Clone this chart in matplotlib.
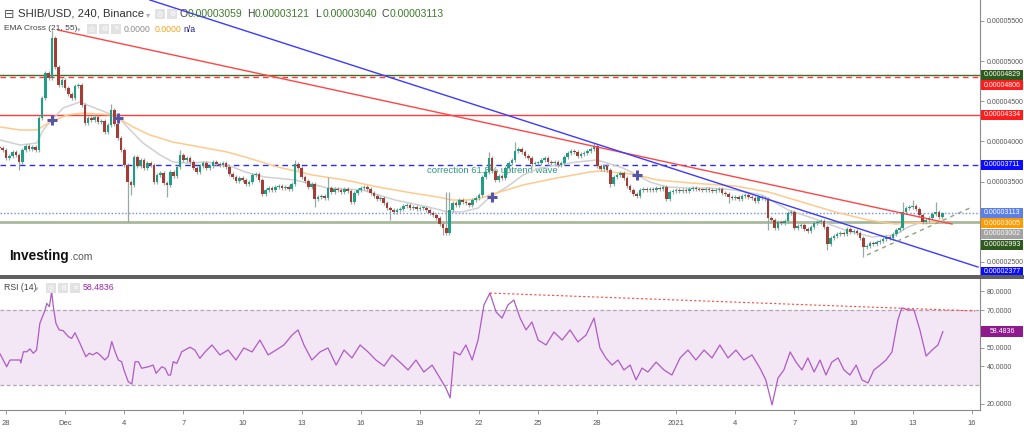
import numpy as np
import matplotlib.pyplot as plt
from matplotlib.patches import Rectangle

plt.rcParams['font.family'] = ['Liberation Sans', 'DejaVu Sans']

### data: SHIB/USD 4h candles (Nov 27 16:00 -> Jan 14 12:00), prices in 1e-8 USD
first_open = 3930
closes = [
    3918, 3893, 3793, 3818, 3868, 3831, 3744, 3893, 3943, 3905,
    3930, 3893, 4291, 4540, 4851, 4789, 5286, 4925, 4701, 4764,
    4664, 4589, 4540, 4689, 4701, 4453, 4229, 4291, 4266, 4303,
    4241, 4254, 4117, 4204, 4390, 4216, 4042, 3893, 3706, 3495,
    3458, 3806, 3694, 3769, 3669, 3731, 3706, 3495, 3582, 3607,
    3483, 3458, 3619, 3570, 3681, 3831, 3769, 3793, 3744, 3669,
    3619, 3694, 3731, 3669, 3694, 3744, 3719, 3706, 3731, 3681,
    3594, 3560, 3507, 3545, 3520, 3470, 3495, 3582, 3594, 3520, 3346,
    3395, 3420, 3395, 3433, 3445, 3420, 3433, 3408, 3470, 3719,
    3669, 3557, 3507, 3433, 3470, 3283, 3308, 3321, 3296, 3420,
    3371, 3408, 3395, 3371, 3408, 3383, 3246, 3358, 3395, 3420,
    3433, 3408, 3358, 3321, 3283, 3296, 3234, 3171, 3147, 3122,
    3147, 3159, 3196, 3209, 3171, 3184, 3159, 3171, 3171, 3147,
    3109, 3084, 3047, 2972, 2923, 2860, 3147, 3234, 3209, 3271,
    3246, 3230, 3209, 3271, 3296, 3333, 3557, 3619, 3793, 3632, 3520,
    3570, 3545, 3669, 3731, 3769, 3881, 3905, 3868, 3818, 3793,
    3719, 3731, 3731, 3769, 3793, 3744, 3731, 3744, 3706, 3731,
    3806, 3856, 3881, 3868, 3818, 3843, 3856, 3881, 3905, 3943,
    3694, 3657, 3694, 3644, 3470, 3557, 3582, 3607, 3545, 3445,
    3395, 3346, 3321, 3395, 3408, 3395, 3408, 3395, 3420, 3408,
    3433, 3283, 3371, 3383, 3395, 3383, 3395, 3383, 3408, 3420,
    3408, 3400, 3395, 3408, 3395, 3383, 3395, 3408, 3358, 3346, 3308,
    3296, 3308, 3283, 3321, 3333, 3308, 3296, 3259, 3308, 3296,
    3283, 3047, 3022, 2923, 2997, 2985, 3010, 3109, 3122, 2923,
    2947, 2960, 2909, 2885, 2935, 2985, 2997, 3010, 2935, 2723,
    2797, 2823, 2848, 2860, 2848, 2909, 2872, 2885, 2860, 2797,
    2685, 2699, 2736, 2723, 2748, 2761, 2786, 2811, 2797, 2848,
    2897, 2923, 3122, 3171, 3184, 3196, 3159, 3084, 2997, 3022,
    3047, 3097, 3122, 3059, 3113,
]
# long wicks (bar index -> price)
wick_highs = {16: 5386, 34: 4465, 55: 3893, 90: 3769, 100: 3557, 136: 3371,
              137: 3371, 149: 3868, 157: 3993, 181: 3980, 275: 3246,
              278: 3271, 285: 3246, 287: 3121}
wick_lows = {6: 3644, 39: 2997, 40: 3333, 51: 3308, 96: 3184, 119: 3022,
             135: 2835, 186: 3433, 222: 3234, 234: 2897, 252: 2648,
             263: 2561, 287: 3040}

ema21 = [(0.2, 4017), (6.3, 3955), (11.4, 3980), (13.3, 4142), (16.0, 4266),
         (19.4, 4416), (24.5, 4490), (26.7, 4453), (30.6, 4391), (36.1, 4303),
         (39.8, 4142), (43.7, 3980), (48.9, 3831), (52.8, 3744), (57.1, 3731),
         (63.2, 3744), (71.1, 3681), (74.8, 3619), (80.8, 3557), (90.0, 3520),
         (100.0, 3420), (110.4, 3395), (120.4, 3271), (130.5, 3184), (136.6, 3122),
         (140.8, 3122), (145.7, 3171), (149.3, 3308), (154.5, 3433), (159.4, 3582),
         (164.6, 3669), (169.7, 3706), (175.8, 3744), (181.9, 3769), (185.0, 3731),
         (189.8, 3669), (194.1, 3582), (198.0, 3495), (203.2, 3433), (210.2, 3420),
         (216.3, 3420), (223.9, 3395), (232.1, 3333), (240.1, 3147), (249.2, 3022),
         (257.4, 2897), (265.6, 2811), (272.6, 2836), (276.6, 2935), (280.8, 2997),
         (287.2, 3002)]
ema55 = [(0.2, 4179), (6.3, 4142), (11.4, 4142), (15.4, 4241), (20.6, 4328),
         (25.4, 4353), (34.6, 4328), (40.7, 4179), (45.8, 4080), (52.8, 3992),
         (61.1, 3930), (69.3, 3868), (74.8, 3806), (84.8, 3681), (95.2, 3582),
         (105.2, 3520), (115.2, 3433), (125.6, 3358), (133.5, 3308), (137.8, 3271),
         (141.7, 3271), (145.7, 3283), (149.3, 3333), (159.4, 3458), (169.7, 3545),
         (179.8, 3619), (182.8, 3632), (189.8, 3607), (194.1, 3582), (200.2, 3520),
         (210.2, 3483), (223.9, 3445), (234.0, 3371), (244.3, 3246), (254.4, 3122),
         (264.4, 3022), (272.6, 2972), (277.8, 2985), (284.8, 2997), (287.2, 3005)]
ema_cross = [(16.0, 4266), (36.1, 4291), (149.9, 3308), (194.1, 3582)]

rsi = [(0.2, 46.6), (2.2, 39.8), (3.2, 43.4), (6.3, 43.4), (6.5, 41.8), (7.3, 47.8),
       (8.3, 47.8), (9.3, 49.3), (10.3, 47.0), (11.3, 48.7), (12.3, 62.9), (13.9, 70.0),
       (14.4, 73.5), (15.2, 71.8), (15.9, 79.8), (16.4, 71.8), (17.2, 62.9), (18.2, 59.4),
       (19.4, 59.0), (21.0, 55.8), (22.0, 54.9), (23.0, 57.9), (24.5, 52.3), (26.3, 45.2),
       (27.4, 47.0), (28.4, 46.1), (29.6, 47.4), (30.6, 46.1), (32.1, 43.4), (33.1, 45.2),
       (34.2, 53.2), (35.2, 47.8), (36.2, 43.4), (37.2, 42.5), (37.9, 38.1), (39.2, 31.9),
       (40.3, 30.6), (41.3, 42.5), (42.3, 42.5), (43.3, 39.0), (45.3, 39.8), (46.8, 40.7),
       (47.7, 36.3), (49.4, 39.8), (50.4, 39.0), (51.4, 35.4), (52.1, 35.4), (52.9, 42.5),
       (54.0, 41.6), (55.5, 47.8), (58.0, 50.2), (59.5, 48.7), (61.0, 44.3), (62.6, 47.7),
       (64.7, 51.4), (67.1, 46.1), (69.6, 48.7), (72.0, 43.4), (74.4, 49.8), (76.9, 47.7),
       (79.3, 54.0), (81.8, 46.1), (84.2, 48.7), (86.6, 51.4), (89.1, 56.7), (90.9, 59.4),
       (92.7, 51.4), (95.1, 43.4), (97.6, 47.7), (100.0, 49.8), (102.5, 40.7), (104.9, 48.7),
       (107.3, 44.5), (109.8, 51.4), (112.2, 47.7), (114.6, 43.4), (117.1, 40.2), (119.5, 46.1),
       (121.9, 42.3), (124.4, 38.1), (126.8, 43.4), (129.2, 37.0), (131.7, 40.7), (134.1, 33.8),
       (135.9, 28.5), (137.2, 23.2), (138.4, 47.7), (140.2, 46.1), (142.0, 51.4), (143.9, 43.4),
       (145.7, 54.0), (147.5, 72.7), (149.3, 79.0), (151.2, 68.9), (153.0, 65.7), (154.8, 72.7),
       (156.6, 75.3), (158.5, 65.7), (160.3, 59.4), (162.1, 63.6), (164.0, 54.0), (166.4, 51.4),
       (168.8, 58.3), (171.3, 54.0), (173.7, 59.4), (176.1, 53.0), (178.6, 56.7), (181.0, 65.7),
       (182.8, 49.8), (184.6, 44.5), (186.5, 40.7), (188.3, 43.4), (190.1, 38.1), (192.0, 40.7),
       (193.8, 32.8), (195.6, 39.1), (197.4, 37.0), (199.9, 42.3), (202.3, 38.1), (204.7, 35.4),
       (207.2, 44.5), (209.6, 48.7), (212.0, 43.4), (214.5, 48.7), (216.9, 44.5), (219.3, 51.4),
       (221.8, 44.5), (224.2, 48.7), (226.6, 43.4), (229.1, 46.1), (231.5, 39.1), (233.3, 32.8),
       (235.2, 19.5), (237.0, 33.8), (238.8, 38.1), (240.7, 47.7), (242.5, 42.3), (244.3, 38.1),
       (246.1, 44.5), (248.0, 37.0), (249.8, 43.4), (251.6, 35.4), (253.4, 42.3), (255.3, 44.5),
       (257.1, 38.1), (258.9, 35.4), (260.8, 40.7), (262.6, 32.8), (264.4, 31.2), (266.2, 38.1),
       (268.1, 40.7), (269.9, 43.4), (271.7, 47.7), (273.5, 64.7), (274.7, 71.1), (276.6, 70.0),
       (278.4, 70.0), (280.2, 59.4), (282.1, 45.5), (283.9, 48.7), (285.7, 51.4), (287.2, 58.5)]

# drawn levels / trendlines
levels = [(4829, '#3f6e2e', '-', 1.0), (4806, '#ff3b3b', (0, (4, 3)), 1.0),
          (4334, '#ff3b3b', '-', 1.0), (3711, '#2b2bff', (0, (4, 3)), 1.0),
          (3113, '#6d8cf0', (0, (1, 1.5)), 1.0), (2993, '#a9b99c', '-', 2.0)]
red_trend = [(17.8, 5386), (290.0, 2972)]
blue_trend = [(45.8, 5759), (297.9, 2437)]
green_trend = [(264.1, 2587), (296.1, 3184)]
rsi_trend = [(149.3, 79.0), (297.0, 69.5)]

price_ticks = [2500, 3500, 4000, 4500, 5000, 5500]
price_boxes = [(4829, '#2e5a1d'), (4806, '#ff1c1c'), (4334, '#ff1c1c'),
               (3711, '#0b0bff'), (3113, '#5b7fe8'), (3005, '#ff9a00'),
               (3002, '#a3a3a3'), (2993, '#2e5a1d'), (2377, '#0b0bff')]
rsi_ticks = [20, 40, 50, 70, 80]
rsi_last = 58.4836
day_pos = [2, 20, 38, 56, 74, 92, 110, 128, 146, 164, 182, 206, 224, 242, 260, 278, 296]
day_labels = ['28', 'Dec', '4', '7', '10', '13', '16', '19', '22', '25', '28',
              '2021', '4', '7', '10', '13', '16']

### figure layout (pixel based)
W, H = 1024, 434
fig = plt.figure(figsize=(W / 100, H / 100), dpi=100)
fig.patch.set_facecolor('white')

def fr(x0, y0, x1, y1):
    return [x0 / W, 1 - y1 / H, (x1 - x0) / W, (y1 - y0) / H]

ax = fig.add_axes(fr(0, 0, 980, 275))
ax_r = fig.add_axes(fr(980, 0, 1024, 275))
axr = fig.add_axes(fr(0, 279, 980, 410))
axr_r = fig.add_axes(fr(980, 279, 1024, 410))

PY = (2338, 5759)
RY = (16.8, 86.5)
XL = (0.17, 298.5)
ax.set_xlim(*XL); ax.set_ylim(*PY)
axr.set_xlim(*XL); axr.set_ylim(*RY)

### candles
n = len(closes)
idx = np.arange(n)
c = np.array(closes, float)
o = np.concatenate([[first_open], c[:-1]])
hi = np.maximum(o, c) + 22
lo = np.minimum(o, c) - 22
for k, v in wick_highs.items():
    hi[k] = v
for k, v in wick_lows.items():
    lo[k] = v
up = c >= o
col = np.where(up, '#1f9e86', '#a53d36')
ax.vlines(idx, lo, hi, colors='#98aaa2', linewidth=0.9, zorder=4)
body = np.maximum(np.abs(c - o), 10)
ax.bar(idx, body, bottom=np.minimum(o, c), width=0.8, color=col,
       linewidth=0, zorder=5)

### emas
ax.plot(*zip(*ema21), color='#d0d0d0', lw=1.1, zorder=3)
ax.plot(*zip(*ema55), color='#ffca8c', lw=1.1, zorder=3)
ax.plot(*zip(*ema_cross), '+', color='#5656a6', ms=7, mew=2.2, zorder=6)

### levels and trendlines
for y, cl, ls, lw in levels:
    ax.axhline(y, color=cl, ls=ls, lw=lw, zorder=2)
ax.plot(*zip(*red_trend), color='#ff4545', lw=1.0, zorder=6)
ax.plot(*zip(*blue_trend), color='#3b3bff', lw=1.0, zorder=6)
ax.plot(*zip(*green_trend), color='#8fa37a', lw=1.0, ls=(0, (3, 3)), zorder=6)

ax.text(130.3, 3644, 'correction 61.8% uptrend wave', color='#2f9a80',
        fontsize=6.8, va='center', zorder=1)

for a in (ax, axr):
    for s in ('top', 'left', 'bottom'):
        a.spines[s].set_visible(False)
    a.spines['right'].set_color('#8a8a8a')
    a.spines['right'].set_linewidth(0.8)
ax.set_xticks([])
ax.yaxis.tick_right()
ax.set_yticks(price_ticks)
ax.set_yticklabels(['%.8f' % (v * 1e-8) for v in price_ticks])
ax.tick_params(axis='y', length=3, width=0.6, color='#8a8a8a', labelsize=5,
               labelcolor='#555555', pad=2)

### right price boxes (stacked so they do not overlap)
ax_r.set_xlim(0, 1); ax_r.set_ylim(*PY); ax_r.axis('off')
gap = 132
prev = None
for v, cl in sorted(price_boxes, key=lambda t: -t[0]):
    yc = v if prev is None else min(v, prev - gap)
    prev = yc
    ax_r.add_patch(Rectangle((0.02, yc - 62), 0.95, 124, color=cl, lw=0))
    ax_r.text(0.5, yc, '%.8f' % (v * 1e-8), color='white', fontsize=5,
              ha='center', va='center', clip_on=True)

### RSI
axr.axhspan(30, 70, color='#f3e6f5', lw=0, zorder=0)
for y in (30, 70):
    axr.axhline(y, color='#b3a6b3', lw=0.9, ls=(0, (3, 2)), zorder=1)
axr.plot(*zip(*rsi), color='#ad5cc4', lw=0.9, zorder=3)
axr.plot(*zip(*rsi_trend), color='#ff4545', lw=0.8, ls=(0, (2, 2)), zorder=4)
axr.spines['bottom'].set_visible(True)
axr.spines['bottom'].set_color('#8a8a8a')
axr.spines['bottom'].set_linewidth(0.8)
axr.yaxis.tick_right()
axr.set_yticks(rsi_ticks)
axr.set_yticklabels(['%.4f' % v for v in rsi_ticks])
axr.tick_params(axis='y', length=3, width=0.6, color='#8a8a8a', labelsize=5,
                labelcolor='#555555', pad=2)
axr.set_xticks(day_pos)
axr.set_xticklabels(day_labels)
axr.tick_params(axis='x', length=3, width=0.6, color='#8a8a8a', labelsize=5.5,
                labelcolor='#555555', pad=4)

axr_r.set_xlim(0, 1); axr_r.set_ylim(*RY); axr_r.axis('off')
axr_r.add_patch(Rectangle((0.02, rsi_last - 2.9), 0.95, 5.8, color='#8e1a8e', lw=0))
axr_r.text(0.5, rsi_last, '%.4f' % rsi_last, color='white', fontsize=5,
           ha='center', va='center')

### panel separator
fig.add_artist(Rectangle((0, 1 - 279 / H), 1, 4 / H, transform=fig.transFigure,
                         color='#606060', lw=0))

### header texts
def ftext(x, y, s, **kw):
    kw.setdefault('va', 'center')
    fig.text(x / W, 1 - y / H, s, **kw)

def icon(x, y, g):
    fig.add_artist(Rectangle((x / W, 1 - (y + 5) / H), 10 / W, 10 / H,
                             transform=fig.transFigure, color='#e2e2e2', lw=0))
    ftext(x + 5, y, g, fontsize=5, color='white', ha='center',
          family=['DejaVu Sans'])

ftext(4, 14, '\u229f', fontsize=9, color='#555555', family=['DejaVu Sans'])
ftext(18, 14, 'SHIB/USD, 240, Binance', fontsize=8.2, color='#333333')
ftext(146, 15, '\u25be', fontsize=6, color='#b0b0b0', family=['DejaVu Sans'])
icon(155, 14, '\u25ce'); icon(167, 14, '\u2699')
ohlc = [('O', '0.00003059', 180), ('H', '0.00003121', 247),
        ('L', '0.00003040', 315), ('C', '0.00003113', 382)]
for lab, val, x in ohlc:
    ftext(x, 14, lab, fontsize=7.5, color='#444444')
    ftext(x + 7.5, 14, val, fontsize=7.5, color='#3d7a2b')

ftext(4, 29, 'EMA Cross (21, 55)', fontsize=6.0, color='#444444')
ftext(77, 30, '\u25be', fontsize=5, color='#b0b0b0', family=['DejaVu Sans'])
icon(87, 29, '\u25ce'); icon(99, 29, '\u2699'); icon(111, 29, '\u2715')
ftext(124, 29, '0.0000', fontsize=6.3, color='#8c8c8c')
ftext(155, 29, '0.0000', fontsize=6.3, color='#f5a31a')
ftext(183, 29, 'n/a', fontsize=6.3, color='#1f1f8f')

ftext(4, 288, 'RSI (14)', fontsize=6.3, color='#444444')
ftext(35, 289, '\u25be', fontsize=5, color='#b0b0b0', family=['DejaVu Sans'])
icon(46, 288, '\u25ce'); icon(58, 288, '\u2699'); icon(70, 288, '\u2715')
ftext(83, 288, '58.4836', fontsize=6.3, color='#9c27b0')

ftext(9, 256, 'Investing', fontsize=9.8, color='#111111', weight='bold')
ftext(70, 257, '.com', fontsize=7.5, color='#555555')

fig.savefig('out.png', dpi=100, facecolor='white')
